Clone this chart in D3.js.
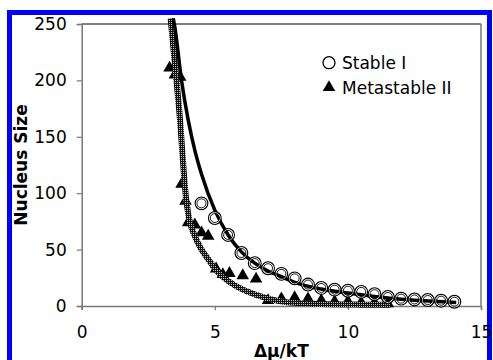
<!DOCTYPE html>
<html>
<head>
<meta charset="utf-8">
<script src="https://cdn.jsdelivr.net/npm/d3@7"></script>
<style>
  html, body { margin: 0; padding: 0; background: #fff; }
  svg { display: block; font-family: 'DejaVu Sans', Verdana, sans-serif; }
</style>
</head>
<body>
<div id="app"></div>
<script>
// data
const stableX = [4.5, 5, 5.5, 6, 6.5, 7, 7.5, 8, 8.5, 9, 9.5, 10, 10.5, 11, 11.5, 12, 12.5, 13, 13.5, 14]
const stableY = [91, 78, 63, 47, 38, 33.5, 28.5, 24.5, 19, 16, 14.5, 13.5, 12.5, 10.5, 8, 6.5, 5.8, 5.3, 4.7, 3.8]

const metaX = [3.3, 3.5, 3.7, 3.75, 3.9, 4.0, 4.25, 4.5, 4.75, 5.05, 5.3, 5.55, 6.05, 6.55, 7.0, 7.5, 8.0, 8.5, 9.0, 9.5, 10.0, 10.5, 11.0, 11.5]
const metaY = [211, 205, 203, 108, 93, 74, 72, 65, 62, 33, 28, 29, 27, 24, 5, 6.5, 7.5, 6.5, 5, 4, 4, 3, 3, 2]

// fitted curves, points
const fitIX = [3.44, 3.5, 3.75, 4.0, 4.25, 4.5, 5.0, 5.5, 6.0, 6.5, 7.0, 7.5, 8.0, 9.0, 10.0, 11.0, 12.0, 13.0, 14.07]
const fitIY = [255, 247, 200, 165, 138, 117, 85, 63, 48, 38, 31, 26, 21, 15, 11.5, 8.5, 6, 4.5, 3]

const fitIIX = [3.34, 3.4, 3.5, 3.6, 3.7, 3.8, 3.9, 4.0, 4.25, 4.5, 4.8, 5.0, 5.3, 5.7, 6.2, 7.0, 7.8, 9.0, 10.5, 11.6]
const fitIIY = [255, 240, 215, 190, 163, 130, 100, 82, 62, 50, 40, 33, 26, 19, 13, 6.5, 3, 1.8, 1.2, 1]

const xTicks = [0, 5, 10, 15]
const yTicks = [0, 50, 100, 150, 200, 250]
const legendLabels = ['Stable I', 'Metastable II']

const width = 493
const height = 360

const svg = d3.select('#app').append('svg')
  .attr('width', width)
  .attr('height', height)

// stipple pattern for the second fit line
const defs = svg.append('defs')
const pat = defs.append('pattern')
  .attr('id', 'stipple')
  .attr('patternUnits', 'userSpaceOnUse')
  .attr('width', 2).attr('height', 2)
pat.append('rect').attr('width', 2).attr('height', 2).attr('fill', '#111')
pat.append('rect').attr('x', 1).attr('y', 0).attr('width', 1).attr('height', 1).attr('fill', '#bbb')

// blue frame
svg.append('rect')
  .attr('x', 9.5).attr('y', 12.5)
  .attr('width', 480).attr('height', 400)
  .attr('fill', 'none')
  .attr('stroke', '#0000ff')
  .attr('stroke-width', 5)

const x = d3.scaleLinear().domain([0, 15]).range([81.7, 481])
const y = d3.scaleLinear().domain([0, 250]).range([306, 24])

// plot border (top black, right grey)
svg.append('line')
  .attr('x1', x(0)).attr('x2', x(15))
  .attr('y1', y(250)).attr('y2', y(250))
  .attr('stroke', '#000').attr('stroke-width', 1.2)
svg.append('line')
  .attr('x1', x(15)).attr('x2', x(15))
  .attr('y1', y(250)).attr('y2', y(0))
  .attr('stroke', '#777').attr('stroke-width', 1.5)

const yAxis = svg.append('g')
  .attr('transform', `translate(${x(0)},0)`)
  .call(d3.axisLeft(y).tickValues(yTicks).tickSize(5).tickPadding(10))
const xAxis = svg.append('g')
  .attr('transform', `translate(0,${y(0)})`)
  .call(d3.axisBottom(x).tickValues(xTicks).tickSize(4).tickPadding(16))

for (const ax of [xAxis, yAxis]) {
  ax.select('.domain').attr('stroke', '#777').attr('stroke-width', 1.5)
  ax.selectAll('.tick line').attr('stroke', '#777').attr('stroke-width', 1.2)
  ax.selectAll('.tick text')
    .attr('fill', '#000')
    .attr('font-size', 17)
    .attr('font-family', "'DejaVu Sans', Verdana, sans-serif")
}

// axis titles
svg.append('text')
  .attr('x', x(7.5)).attr('y', 357)
  .attr('text-anchor', 'middle')
  .attr('font-size', 17).attr('font-weight', 'bold')
  .text('Δμ/kT')
svg.append('text')
  .attr('transform', `translate(27,${(y(0) + y(250)) / 2}) rotate(-90)`)
  .attr('text-anchor', 'middle')
  .attr('font-size', 17).attr('font-weight', 'bold')
  .text('Nucleus Size')

const meta = metaX.map((d, i) => [d, metaY[i]])
const stable = stableX.map((d, i) => [d, stableY[i]])
const fitI = fitIX.map((d, i) => [d, fitIY[i]])
const fitII = fitIIX.map((d, i) => [d, fitIIY[i]])

const line = d3.line()
  .x((d) => x(d[0]))
  .y((d) => y(d[1]))
  .curve(d3.curveMonotoneX)

const tri = d3.symbol().type(d3.symbolTriangle).size(68)

svg.append('g')
  .selectAll('path')
  .data(meta)
  .join('path')
  .attr('d', tri)
  .attr('transform', (d) => `translate(${x(d[0])},${y(d[1])})`)
  .attr('fill', '#000')

svg.append('path')
  .datum(fitII)
  .attr('d', line)
  .attr('fill', 'none')
  .attr('stroke', 'url(#stipple)')
  .attr('stroke-width', 6)

svg.append('path')
  .datum(fitI)
  .attr('d', line)
  .attr('fill', 'none')
  .attr('stroke', '#000')
  .attr('stroke-width', 3.5)

// open circles with a double ring
const circ = svg.append('g')
  .selectAll('g')
  .data(stable)
  .join('g')
  .attr('transform', (d) => `translate(${x(d[0])},${y(d[1])})`)
circ.append('circle').attr('r', 6.3).attr('fill', 'none').attr('stroke', '#000').attr('stroke-width', 1.3)
circ.append('circle').attr('r', 5.3).attr('fill', 'none').attr('stroke', '#fff').attr('stroke-width', 0.8)
circ.append('circle').attr('r', 4.5).attr('fill', 'none').attr('stroke', '#000').attr('stroke-width', 0.9)

// legend
const legend = svg.append('g')
legend.append('circle')
  .attr('cx', 329).attr('cy', 62.7).attr('r', 6)
  .attr('fill', 'none').attr('stroke', '#000').attr('stroke-width', 1.3)
legend.append('path')
  .attr('d', tri)
  .attr('transform', 'translate(329,87.5)')
  .attr('fill', '#000')
legend.selectAll('text')
  .data(legendLabels)
  .join('text')
  .attr('x', 342)
  .attr('y', (d, i) => 69 + i * 24.5)
  .attr('font-size', 17)
  .text((d) => d)
</script>
</body>
</html>
